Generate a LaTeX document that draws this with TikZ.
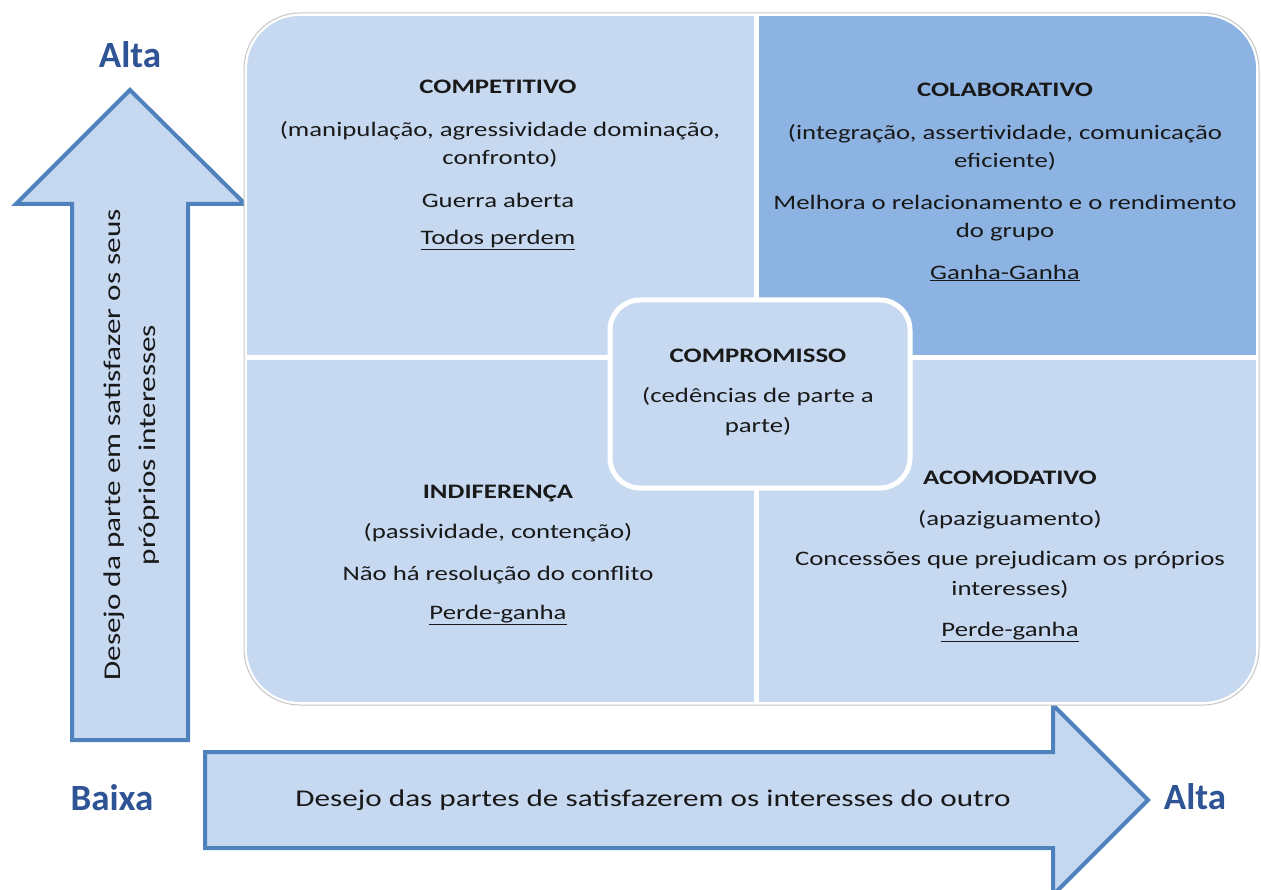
\documentclass[tikz,border=0pt]{standalone}
\usepackage{fontspec}
\setmainfont{Carlito}[FakeStretch=1.3]
\newfontfamily\labelfont{Carlito}
\definecolor{lightq}{RGB}{198,217,241}
\definecolor{darkq}{RGB}{141,179,226}
\definecolor{arrowline}{RGB}{79,129,189}
\definecolor{labelblue}{RGB}{46,84,150}
\definecolor{txt}{RGB}{25,25,25}
\tikzset{
  body/.style={align=center, text=txt, inner sep=0pt, font=\fontsize{20.6}{28}\selectfont},
  ttl/.style={body, font=\fontsize{20.6}{28}\selectfont\bfseries},
  axislabel/.style={text=labelblue, inner sep=0pt, font=\labelfont\fontsize{37}{40}\selectfont\bfseries},
  bigarrow/.style={fill=lightq, draw=arrowline, line width=4pt, line join=miter},
}
\begin{document}
\begin{tikzpicture}[x=1pt,y=-1pt]
\useasboundingbox (0,0) rectangle (1261,890);
% arrows
\draw[bigarrow] (72,740) -- (72,204) -- (16,204) -- (130,90) -- (245,204) -- (188,204) -- (188,740) -- cycle;
\draw[bigarrow] (205,752) -- (1053,752) -- (1053,705) -- (1148,800) -- (1053,895) -- (1053,848) -- (205,848) -- cycle;
% main rounded box
\fill[white] (244,13) [rounded corners=56] rectangle (1259,705);
\begin{scope}
\clip[rounded corners=53] (247,16) rectangle (1256,702);
\fill[lightq] (247,16) rectangle (1256,702);
\fill[darkq] (756,16) rectangle (1256,358);
\end{scope}
\draw[gray!45, line width=1pt, rounded corners=56] (244,13) rectangle (1259,705);
\draw[white, line width=5pt] (756,14) -- (756,704);
\draw[white, line width=5pt] (246,358) -- (1258,358);
% center box
\draw[fill=lightq, draw=white, line width=5pt, rounded corners=30] (610,300) rectangle (910,488);
% axis labels
\node[axislabel] (altaY) at (130,55) {Alta};
\node[axislabel] (baixa) at (112,798) {Baixa};
\node[axislabel] (altaX) at (1195,797) {Alta};
% arrow texts
\node[body, rotate=90, font=\fontsize{24}{35}\selectfont] (ytext) at (132,445) {Desejo da parte em satisfazer os seus\\próprios interesses};
\node[body, font=\fontsize{24}{28}\selectfont] (xtext) at (653,800) {Desejo das partes de satisfazerem os interesses do outro};
% top-left
\node[ttl] (compT) at (498,87) {COMPETITIVO};
\node[body] (compA) at (500,144) {(manipulação, agressividade dominação,\\confronto)};
\node[body] (compB) at (498,200) {Guerra aberta};
\node[body] (compC) at (498,240) {\underline{Todos perdem}};
% top-right
\node[ttl] (colT) at (1005,90) {COLABORATIVO};
\node[body] (colA) at (1005,147) {(integração, assertividade, comunicação\\eficiente)};
\node[body] (colB) at (1005,218) {Melhora o relacionamento e o rendimento\\do grupo};
\node[body] (colC) at (1005,273) {\underline{Ganha-Ganha}};
% center
\node[ttl] (cpT) at (758,356) {COMPROMISSO};
\node[body, font=\fontsize{20.6}{30}\selectfont] (cpA) at (758,412) {(cedências de parte a\\parte)};
% bottom-left
\node[ttl] (indT) at (498,493) {INDIFERENÇA};
\node[body] (indA) at (498,533) {(passividade, contenção)};
\node[body] (indB) at (498,575) {Não há resolução do conflito};
\node[body] (indC) at (498,615) {\underline{Perde-ganha}};
% bottom-right
\node[ttl] (acT) at (1010,478) {ACOMODATIVO};
\node[body] (acA) at (1010,520) {(apaziguamento)};
\node[body, font=\fontsize{20.6}{30}\selectfont] (acB) at (1010,575) {Concessões que prejudicam os próprios\\interesses)};
\node[body] (acC) at (1010,632) {\underline{Perde-ganha}};
\end{tikzpicture}
\end{document}
